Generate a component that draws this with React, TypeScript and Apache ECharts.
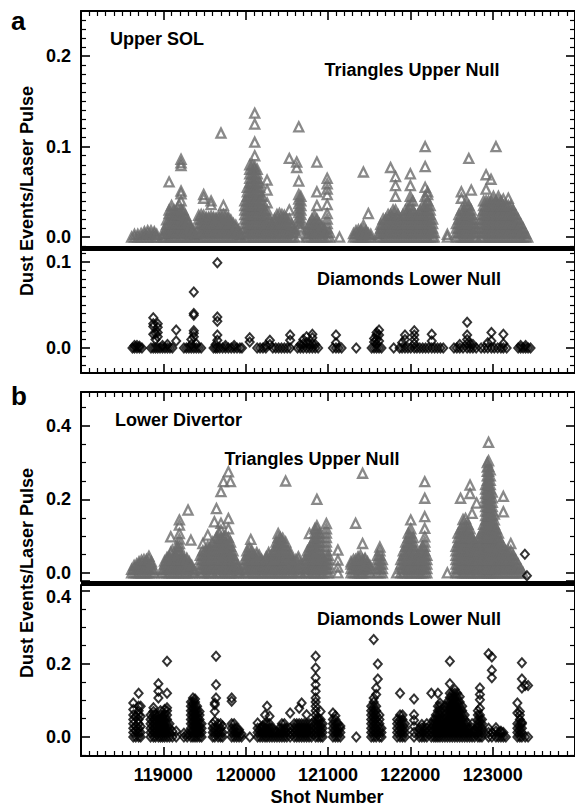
import React, { useEffect, useRef } from "react";
import * as echarts from "echarts";

type Col = [number, number[]];

// x axis (shot number)
const shotMin = 118000;
const shotMax = 124000;
const shotTickLabels = ["119000", "120000", "121000", "122000", "123000"];

// Panel a, top: Upper SOL, triangles = upper null  [shot, values at that shot]
const upperSolTriangles: Col[] = [
  [118615, [0]], [118650, [0, 0.003]], [118690, [0, 0.003]], [118730, [0, 0.004]],
  [118770, [0, 0.003, 0.006]], [118810, [0, 0.004, 0.007]], [118850, [0, 0.003, 0.007]],
  [118890, [0, 0.004, 0.006]], [118920, [0, 0.003]],
  [118985, [0]], [119010, [0, 0.004, 0.008]], [119040, [0, 0.004, 0.009, 0.014, 0.019]],
  [119070, [0, 0.005, 0.01, 0.015, 0.02, 0.026, 0.03, 0.061]],
  [119100, [0, 0.005, 0.01, 0.015, 0.02, 0.025, 0.03, 0.035]],
  [119130, [0, 0.005, 0.01, 0.015, 0.02, 0.025, 0.03]],
  [119160, [0, 0.005, 0.01, 0.015, 0.02, 0.025, 0.028]],
  [119190, [0, 0.005, 0.01, 0.015, 0.02, 0.025, 0.03, 0.036]],
  [119215, [0, 0.005, 0.01, 0.015, 0.02, 0.025, 0.03, 0.04, 0.048, 0.051, 0.079, 0.082, 0.086]],
  [119240, [0, 0.005, 0.01, 0.015, 0.02, 0.025, 0.03]],
  [119270, [0, 0.005, 0.01, 0.015, 0.02, 0.024]],
  [119300, [0, 0.005, 0.01, 0.015, 0.018]], [119330, [0, 0.004, 0.009, 0.012]],
  [119360, [0, 0.004, 0.007]], [119390, [0, 0.003]],
  [119430, [0, 0.005, 0.01, 0.015, 0.02, 0.024]],
  [119460, [0, 0.005, 0.01, 0.015, 0.02, 0.025]],
  [119490, [0, 0.005, 0.01, 0.015, 0.02, 0.024, 0.043, 0.047]],
  [119520, [0, 0.005, 0.01, 0.015, 0.02, 0.022]],
  [119550, [0, 0.005, 0.01, 0.015, 0.02, 0.022]],
  [119580, [0, 0.005, 0.01, 0.015, 0.02, 0.023, 0.036, 0.04]],
  [119610, [0, 0.005, 0.01, 0.015, 0.02, 0.022]],
  [119640, [0, 0.005, 0.01, 0.015, 0.02, 0.021]],
  [119670, [0, 0.005, 0.01, 0.015, 0.02, 0.023]],
  [119700, [0, 0.005, 0.01, 0.015, 0.02, 0.024, 0.115]],
  [119730, [0, 0.005, 0.01, 0.015, 0.02, 0.025, 0.035]],
  [119760, [0, 0.005, 0.01, 0.015, 0.02, 0.024]],
  [119790, [0, 0.005, 0.01, 0.015, 0.02, 0.022]],
  [119820, [0, 0.005, 0.01, 0.015, 0.019]], [119850, [0, 0.005, 0.01, 0.015]],
  [119880, [0, 0.005, 0.01, 0.013]], [119910, [0, 0.004, 0.008]], [119940, [0, 0.003]],
  [119990, [0, 0.005, 0.01, 0.015, 0.02, 0.025, 0.03, 0.035, 0.04]],
  [120020, [0, 0.005, 0.01, 0.015, 0.02, 0.025, 0.03, 0.035, 0.04, 0.045, 0.05, 0.055]],
  [120050, [0, 0.005, 0.01, 0.015, 0.02, 0.025, 0.03, 0.035, 0.04, 0.045, 0.05, 0.055, 0.06, 0.065, 0.07, 0.075, 0.08]],
  [120080, [0, 0.005, 0.01, 0.015, 0.02, 0.025, 0.03, 0.035, 0.04, 0.045, 0.05, 0.055, 0.06, 0.065, 0.07, 0.075, 0.08]],
  [120110, [0, 0.005, 0.01, 0.015, 0.02, 0.025, 0.03, 0.035, 0.04, 0.045, 0.05, 0.055, 0.06, 0.065, 0.07, 0.075, 0.078, 0.09, 0.105, 0.125, 0.137]],
  [120140, [0, 0.005, 0.01, 0.015, 0.02, 0.025, 0.03, 0.035, 0.04, 0.045, 0.05, 0.055, 0.06, 0.065, 0.07, 0.075]],
  [120170, [0, 0.005, 0.01, 0.015, 0.02, 0.025, 0.03, 0.035, 0.04, 0.045, 0.05, 0.055, 0.06]],
  [120200, [0, 0.005, 0.01, 0.015, 0.02, 0.025, 0.03, 0.035, 0.04, 0.045]],
  [120230, [0, 0.005, 0.01, 0.015, 0.02, 0.025, 0.03]],
  [120260, [0, 0.005, 0.01, 0.015, 0.02, 0.025, 0.03, 0.038, 0.052, 0.063]],
  [120290, [0, 0.005, 0.01, 0.015, 0.02]], [120320, [0, 0.005, 0.01, 0.015]],
  [120350, [0, 0.005, 0.01, 0.015, 0.02]], [120380, [0, 0.005, 0.01, 0.015, 0.02, 0.025]],
  [120410, [0, 0.005, 0.01, 0.015, 0.02, 0.026]], [120440, [0, 0.005, 0.01, 0.015, 0.02, 0.025]],
  [120470, [0, 0.005, 0.01, 0.015, 0.02, 0.024]], [120500, [0, 0.005, 0.01, 0.015, 0.02]],
  [120530, [0, 0.005, 0.01, 0.015, 0.02, 0.03, 0.087]], [120560, [0, 0.005, 0.01, 0.014]],
  [120590, [0, 0.005, 0.008]], [120620, [0.077, 0.083]],
  [120645, [0, 0.012, 0.017, 0.022, 0.027, 0.032, 0.037, 0.042, 0.047, 0.062, 0.122]],
  [120670, [0.01, 0.015, 0.02, 0.025, 0.03, 0.035, 0.04, 0.045]],
  [120745, [0, 0.004, 0.008]], [120775, [0, 0.005, 0.01, 0.015]],
  [120805, [0, 0.005, 0.01, 0.015, 0.02]], [120835, [0, 0.005, 0.01, 0.015, 0.019, 0.024]],
  [120865, [0, 0.005, 0.01, 0.015, 0.02, 0.035, 0.05, 0.083]],
  [120895, [0, 0.005, 0.01, 0.015]], [120925, [0, 0.005, 0.01, 0.013]], [120955, [0, 0.005, 0.009]],
  [120990, [0, 0.005, 0.01, 0.015, 0.02, 0.026, 0.036, 0.047, 0.053, 0.059, 0.065]],
  [121020, [0, 0.005]], [121140, [0]],
  [121310, [0, 0.004]], [121340, [0, 0.004, 0.007]], [121370, [0, 0.004, 0.008]],
  [121400, [0, 0.004, 0.008]], [121430, [0, 0.004, 0.008, 0.013, 0.072]],
  [121460, [0, 0.004, 0.007]], [121490, [0, 0.004, 0.026]], [121520, [0, 0.003]],
  [121610, [0, 0.004]], [121640, [0, 0.005, 0.01, 0.014]], [121670, [0, 0.005, 0.01, 0.015, 0.02]],
  [121700, [0, 0.005, 0.01, 0.015, 0.02]], [121730, [0, 0.005, 0.01, 0.015, 0.02, 0.025]],
  [121760, [0, 0.005, 0.01, 0.015, 0.02, 0.025, 0.077]],
  [121790, [0, 0.005, 0.01, 0.015, 0.02, 0.025, 0.03]],
  [121820, [0, 0.005, 0.01, 0.015, 0.02, 0.025, 0.03, 0.045, 0.057, 0.067]],
  [121850, [0, 0.005, 0.01, 0.015, 0.02, 0.025]], [121880, [0, 0.005, 0.01, 0.015, 0.02]],
  [121910, [0, 0.005, 0.01, 0.015, 0.02, 0.025]], [121940, [0, 0.005, 0.01, 0.015, 0.02, 0.025, 0.03]],
  [121970, [0, 0.005, 0.01, 0.015, 0.02, 0.025, 0.03]],
  [122000, [0, 0.005, 0.01, 0.015, 0.02, 0.025, 0.03, 0.035, 0.04, 0.045, 0.057, 0.07]],
  [122030, [0, 0.005, 0.01, 0.015, 0.02, 0.025, 0.03, 0.04]],
  [122060, [0, 0.005, 0.01, 0.015, 0.02, 0.025]], [122090, [0, 0.005, 0.01, 0.015, 0.02, 0.025]],
  [122120, [0, 0.005, 0.01, 0.015, 0.02, 0.025, 0.03]],
  [122150, [0, 0.005, 0.01, 0.015, 0.02, 0.025, 0.03, 0.035]],
  [122180, [0, 0.005, 0.01, 0.015, 0.02, 0.025, 0.03, 0.035, 0.045, 0.055, 0.078, 0.1]],
  [122210, [0, 0.005, 0.01, 0.015, 0.02, 0.025, 0.03, 0.035, 0.04, 0.047, 0.05]],
  [122240, [0, 0.005, 0.01, 0.015, 0.02, 0.025, 0.03, 0.035]],
  [122270, [0, 0.005, 0.01, 0.015, 0.02]], [122290, [0, 0.005]],
  [122450, [0, 0.003]],
  [122560, [0, 0.005, 0.01, 0.015]], [122590, [0, 0.005, 0.01, 0.015, 0.02, 0.025]],
  [122620, [0, 0.005, 0.01, 0.015, 0.02, 0.025, 0.03, 0.043, 0.05]],
  [122650, [0, 0.005, 0.01, 0.015, 0.02, 0.025, 0.03]],
  [122680, [0, 0.005, 0.01, 0.015, 0.02, 0.025, 0.03, 0.035, 0.04]],
  [122710, [0, 0.005, 0.01, 0.015, 0.02, 0.025, 0.03, 0.035, 0.087]],
  [122740, [0, 0.005, 0.01, 0.015, 0.02, 0.025, 0.03, 0.052]],
  [122770, [0, 0.005, 0.01, 0.015, 0.02]], [122800, [0, 0.005, 0.01]],
  [122860, [0, 0.005, 0.01, 0.015, 0.02, 0.025]],
  [122890, [0, 0.005, 0.01, 0.015, 0.02, 0.025, 0.03, 0.035, 0.04]],
  [122920, [0, 0.005, 0.01, 0.015, 0.02, 0.025, 0.03, 0.035, 0.04, 0.053, 0.069]],
  [122950, [0, 0.005, 0.01, 0.015, 0.02, 0.025, 0.03, 0.035, 0.04]],
  [122980, [0, 0.005, 0.01, 0.015, 0.02, 0.025, 0.03, 0.035, 0.04, 0.064]],
  [123010, [0, 0.005, 0.01, 0.015, 0.02, 0.025, 0.03, 0.035, 0.04, 0.045]],
  [123040, [0, 0.005, 0.01, 0.015, 0.02, 0.025, 0.03, 0.035, 0.04, 0.1]],
  [123070, [0, 0.005, 0.01, 0.015, 0.02, 0.025, 0.03, 0.035, 0.04, 0.045]],
  [123100, [0, 0.005, 0.01, 0.015, 0.02, 0.025, 0.03, 0.035, 0.04]],
  [123130, [0, 0.005, 0.01, 0.015, 0.02, 0.025, 0.03, 0.035, 0.042]],
  [123160, [0, 0.005, 0.01, 0.015, 0.02, 0.025, 0.03, 0.035]],
  [123190, [0, 0.005, 0.01, 0.015, 0.02, 0.025, 0.03, 0.035, 0.043]],
  [123220, [0, 0.005, 0.01, 0.015, 0.02, 0.025, 0.03, 0.035]],
  [123250, [0, 0.005, 0.01, 0.015, 0.02, 0.025, 0.03]],
  [123280, [0, 0.005, 0.01, 0.015, 0.02, 0.025]], [123310, [0, 0.005, 0.01, 0.015, 0.02]],
  [123340, [0, 0.005, 0.01, 0.015]], [123370, [0, 0.005, 0.01]], [123400, [0, 0.004]], [123425, [0]],
];

// Panel a, bottom: Upper SOL, diamonds = lower null
const upperSolDiamonds: Col[] = [
  [118625, [0]], [118650, [0, 0.003]], [118680, [0, 0.003]], [118710, [0, 0.002]], [118740, [0]],
  [118850, [0]], [118878, [0, 0.016, 0.025, 0.028, 0.035]], [118905, [0, 0.01, 0.017]],
  [118932, [0, 0.013, 0.018, 0.024, 0.028]], [118960, [0]], [118990, [0, 0.003]], [119020, [0]],
  [119050, [0, 0.004]], [119080, [0]], [119110, [0]], [119156, [0.008, 0.021]],
  [119250, [0]], [119280, [0]], [119310, [0]], [119340, [0, 0.004, 0.01]],
  [119370, [0, 0.013, 0.017, 0.02, 0.038, 0.04, 0.065]], [119400, [0, 0.005]], [119430, [0]], [119460, [0]],
  [119610, [0]], [119635, [0, 0.004]], [119656, [0, 0.009, 0.015, 0.031, 0.036, 0.099]], [119685, [0]],
  [119720, [0]], [119755, [0, 0.003]], [119790, [0]], [119825, [0]], [119860, [0, 0.003]],
  [119895, [0]], [119930, [0]], [119955, [0]], [120049, [0.007, 0.012]],
  [120140, [0]], [120175, [0]], [120210, [0]], [120245, [0, 0.003]], [120294, [0.004, 0.009]],
  [120330, [0]], [120365, [0]], [120400, [0]], [120435, [0]], [120470, [0]], [120505, [0]],
  [120540, [0, 0.009, 0.015]],
  [120630, [0]], [120665, [0, 0.004]], [120700, [0, 0.005, 0.01]], [120740, [0, 0.006, 0.013]],
  [120775, [0, 0.004]], [120810, [0, 0.005, 0.012, 0.016]], [120845, [0, 0.004]], [120880, [0]],
  [121060, [0]], [121097, [0, 0.006, 0.015]], [121130, [0]], [121165, [0]], [121343, [0]],
  [121530, [0]], [121560, [0, 0.007, 0.011]], [121590, [0, 0.005, 0.01, 0.015, 0.018]],
  [121620, [0, 0.008, 0.015, 0.021]], [121650, [0]], [121798, [0]],
  [121870, [0]], [121900, [0, 0.006]], [121935, [0, 0.01, 0.015]], [121970, [0]], [122005, [0]],
  [122048, [0, 0.005, 0.01, 0.015, 0.02]], [122080, [0]], [122115, [0]], [122150, [0]],
  [122185, [0]], [122220, [0]], [122260, [0, 0.008, 0.016]], [122295, [0]], [122330, [0]],
  [122365, [0]], [122400, [0]],
  [122530, [0]], [122565, [0]], [122600, [0, 0.004]], [122640, [0]],
  [122690, [0, 0.005, 0.01, 0.015, 0.03]], [122725, [0, 0.005]], [122760, [0, 0.004]], [122800, [0]],
  [122860, [0]], [122900, [0]], [122940, [0, 0.006]], [122985, [0, 0.008, 0.018]], [123020, [0]],
  [123060, [0]], [123100, [0]], [123130, [0, 0.005, 0.016]], [123170, [0]],
  [123310, [0]], [123340, [0, 0.003]], [123370, [0]], [123400, [0, 0.003]], [123430, [0]], [123460, [0]],
];

// Panel b, top: Lower Divertor, triangles = upper null
const lowerDivTriangles: Col[] = [
  [118615, [0, 0.01]], [118645, [0, 0.012, 0.02]], [118675, [0, 0.012, 0.024]],
  [118705, [0, 0.012, 0.024, 0.03]], [118735, [0, 0.012, 0.024, 0.034]],
  [118765, [0, 0.012, 0.024, 0.036]], [118795, [0, 0.012, 0.024, 0.036]],
  [118825, [0, 0.012, 0.024, 0.036, 0.045]], [118855, [0, 0.012, 0.024, 0.03]], [118885, [0, 0.01]],
  [118985, [0, 0.01]], [119015, [0, 0.012, 0.024, 0.032]], [119045, [0, 0.012, 0.024, 0.036, 0.042]],
  [119075, [0, 0.012, 0.024, 0.036, 0.044]], [119090, [0.056, 0.098]],
  [119110, [0, 0.012, 0.024, 0.036, 0.048, 0.062]], [119140, [0, 0.012, 0.024, 0.036, 0.048]],
  [119170, [0, 0.012, 0.024, 0.036, 0.048, 0.06, 0.072]],
  [119195, [0, 0.012, 0.024, 0.036, 0.048, 0.06, 0.07, 0.08, 0.092, 0.107, 0.13, 0.144]],
  [119225, [0, 0.012, 0.024, 0.036, 0.044]], [119255, [0, 0.012, 0.024, 0.036, 0.04]],
  [119285, [0, 0.012, 0.024, 0.036, 0.04]], [119300, [0.171]], [119315, [0, 0.012, 0.024, 0.03]],
  [119335, [0.089]], [119345, [0, 0.012, 0.02]], [119375, [0, 0.008]],
  [119450, [0, 0.012, 0.024, 0.036, 0.048]], [119480, [0, 0.012, 0.024, 0.036, 0.048, 0.06, 0.08]],
  [119510, [0, 0.012, 0.024, 0.036, 0.048, 0.06]],
  [119540, [0, 0.012, 0.024, 0.036, 0.048, 0.06, 0.072, 0.103]],
  [119570, [0, 0.012, 0.024, 0.036, 0.048, 0.06, 0.07]],
  [119600, [0, 0.012, 0.024, 0.036, 0.048, 0.06, 0.072, 0.084]], [119620, [0.139]],
  [119645, [0, 0.012, 0.024, 0.036, 0.048, 0.06, 0.072, 0.084, 0.096, 0.175]],
  [119675, [0, 0.012, 0.024, 0.036, 0.048, 0.06, 0.072, 0.084, 0.096, 0.11]],
  [119700, [0, 0.012, 0.024, 0.036, 0.048, 0.06, 0.072, 0.084, 0.096, 0.116, 0.135, 0.221]],
  [119730, [0, 0.012, 0.024, 0.036, 0.048, 0.06, 0.072, 0.084, 0.096, 0.248]],
  [119760, [0, 0.012, 0.024, 0.036, 0.048, 0.06, 0.072, 0.084, 0.1]],
  [119790, [0, 0.012, 0.024, 0.036, 0.048, 0.06, 0.072, 0.084, 0.096, 0.12, 0.148, 0.275]],
  [119815, [0, 0.012, 0.024, 0.036, 0.048, 0.06, 0.072, 0.084, 0.248]],
  [119845, [0, 0.012, 0.024, 0.036, 0.048, 0.06]], [119875, [0, 0.012, 0.024, 0.036]],
  [119905, [0, 0.012, 0.02]], [119930, [0, 0.008]],
  [119985, [0, 0.012, 0.024, 0.036]], [120015, [0, 0.012, 0.024, 0.036, 0.048, 0.06]],
  [120045, [0, 0.012, 0.024, 0.036, 0.048, 0.06, 0.07]], [120062, [0.091]],
  [120075, [0, 0.012, 0.024, 0.036, 0.048, 0.06]], [120105, [0, 0.012, 0.024, 0.036, 0.048]],
  [120135, [0, 0.012, 0.024, 0.036, 0.048, 0.055]], [120165, [0, 0.012, 0.024, 0.036, 0.048]],
  [120195, [0, 0.012, 0.024, 0.036]], [120220, [0, 0.012, 0.02]],
  [120250, [0, 0.012, 0.024, 0.036, 0.044]], [120280, [0, 0.012, 0.024, 0.036, 0.048, 0.055]],
  [120310, [0, 0.012, 0.024, 0.036, 0.048]], [120340, [0, 0.012, 0.024, 0.036, 0.048, 0.06]],
  [120370, [0, 0.012, 0.024, 0.036, 0.048, 0.06, 0.072, 0.084]],
  [120395, [0, 0.012, 0.024, 0.036, 0.048, 0.06, 0.072, 0.084, 0.096, 0.107]],
  [120420, [0, 0.012, 0.024, 0.036, 0.048, 0.06, 0.072, 0.084, 0.096]],
  [120450, [0, 0.012, 0.024, 0.036, 0.048, 0.06, 0.072, 0.084, 0.094]],
  [120485, [0, 0.012, 0.024, 0.036, 0.048, 0.06, 0.072, 0.084, 0.25]],
  [120515, [0, 0.012, 0.024, 0.036, 0.048, 0.06]], [120545, [0, 0.012, 0.024, 0.036, 0.048, 0.055]],
  [120575, [0, 0.012, 0.024, 0.03]],
  [120610, [0, 0.012, 0.024, 0.036]], [120640, [0, 0.012, 0.024, 0.036, 0.044]], [120670, [0, 0.012, 0.024]],
  [120720, [0, 0.012, 0.024, 0.036]], [120750, [0, 0.012, 0.024, 0.036, 0.048, 0.06]], [120775, [0.107]],
  [120780, [0, 0.012, 0.024, 0.036, 0.048, 0.06, 0.07]],
  [120810, [0, 0.012, 0.024, 0.036, 0.048, 0.06, 0.072, 0.084]],
  [120840, [0, 0.012, 0.024, 0.036, 0.048, 0.06, 0.072, 0.084, 0.096, 0.108, 0.12]],
  [120865, [0, 0.012, 0.024, 0.036, 0.048, 0.06, 0.072, 0.084, 0.096, 0.108, 0.12, 0.128, 0.2]],
  [120895, [0, 0.012, 0.024, 0.036, 0.048, 0.06, 0.072, 0.084, 0.096, 0.108]],
  [120925, [0, 0.012, 0.024, 0.036, 0.048]], [120950, [0, 0.012, 0.024, 0.036]],
  [120980, [0, 0.012, 0.024, 0.036, 0.048, 0.06, 0.072, 0.084, 0.096, 0.108, 0.12, 0.134]],
  [121005, [0, 0.012, 0.024, 0.036, 0.048]],
  [121120, [0, 0.016, 0.035, 0.062]],
  [121280, [0, 0.012, 0.024, 0.03]], [121310, [0, 0.012, 0.024, 0.036]],
  [121335, [0, 0.012, 0.024, 0.036, 0.135]], [121365, [0, 0.012, 0.024, 0.036, 0.044]],
  [121395, [0, 0.012, 0.024, 0.036, 0.048]], [121420, [0, 0.012, 0.024, 0.036, 0.08, 0.271]],
  [121450, [0, 0.012, 0.024, 0.036, 0.04]], [121480, [0, 0.012, 0.024, 0.03]], [121510, [0, 0.012, 0.02]],
  [121600, [0, 0.012, 0.024, 0.036, 0.048]], [121630, [0, 0.012, 0.024, 0.036, 0.048, 0.06, 0.07]],
  [121660, [0, 0.012, 0.024, 0.036]], [121834, [0]],
  [121885, [0, 0.012, 0.024, 0.036]], [121915, [0, 0.012, 0.024, 0.036, 0.048, 0.06]],
  [121945, [0, 0.012, 0.024, 0.036, 0.048, 0.06, 0.072, 0.084]],
  [121975, [0, 0.012, 0.024, 0.036, 0.048, 0.06, 0.072, 0.084, 0.096, 0.108]],
  [122005, [0, 0.012, 0.024, 0.036, 0.048, 0.06, 0.072, 0.084, 0.096, 0.108, 0.12, 0.144]],
  [122035, [0, 0.012, 0.024, 0.036, 0.048, 0.06, 0.072, 0.084, 0.096]],
  [122065, [0, 0.012, 0.024, 0.036, 0.048, 0.06]], [122095, [0, 0.012, 0.024, 0.036, 0.048]],
  [122125, [0, 0.012, 0.024, 0.036, 0.048, 0.06]], [122150, [0, 0.012, 0.024, 0.036, 0.048, 0.06, 0.072]],
  [122175, [0, 0.012, 0.024, 0.036, 0.048, 0.06, 0.072, 0.084, 0.098, 0.121, 0.153, 0.203, 0.248]],
  [122200, [0, 0.012, 0.024, 0.036, 0.048]], [122450, [0]],
  [122555, [0, 0.012, 0.024, 0.036, 0.048, 0.06, 0.072]],
  [122580, [0, 0.012, 0.024, 0.036, 0.048, 0.06, 0.072, 0.084, 0.096, 0.108]],
  [122610, [0, 0.012, 0.024, 0.036, 0.048, 0.06, 0.072, 0.084, 0.096, 0.108, 0.12, 0.203]],
  [122640, [0, 0.012, 0.024, 0.036, 0.048, 0.06, 0.072, 0.084, 0.096, 0.108, 0.12, 0.132, 0.145]],
  [122670, [0, 0.012, 0.024, 0.036, 0.048, 0.06, 0.072, 0.084, 0.096, 0.108, 0.12, 0.132, 0.148]],
  [122700, [0, 0.012, 0.024, 0.036, 0.048, 0.06, 0.072, 0.084, 0.096, 0.108, 0.12, 0.132]],
  [122725, [0, 0.012, 0.024, 0.036, 0.048, 0.06, 0.072, 0.084, 0.096, 0.108, 0.12, 0.216, 0.239]],
  [122750, [0, 0.012, 0.024, 0.036, 0.048, 0.06, 0.072, 0.084, 0.096, 0.162]],
  [122780, [0, 0.012, 0.024, 0.036, 0.048, 0.06, 0.072, 0.084]],
  [122805, [0, 0.012, 0.024, 0.036, 0.048, 0.06, 0.072, 0.19]],
  [122830, [0, 0.012, 0.024, 0.036, 0.048, 0.06, 0.072, 0.084, 0.096]],
  [122860, [0, 0.012, 0.024, 0.036, 0.048, 0.06, 0.072, 0.084, 0.096, 0.108]],
  [122890, [0, 0.012, 0.024, 0.036, 0.048, 0.06, 0.072, 0.084, 0.096, 0.108, 0.12, 0.132]],
  [122915, [0, 0.012, 0.024, 0.036, 0.048, 0.06, 0.072, 0.084, 0.096, 0.108, 0.12, 0.132, 0.144, 0.156, 0.168, 0.18, 0.192, 0.204, 0.216, 0.228, 0.24]],
  [122935, [0, 0.012, 0.024, 0.036, 0.048, 0.06, 0.072, 0.084, 0.096, 0.108, 0.12, 0.132, 0.144, 0.156, 0.168, 0.18, 0.192, 0.204, 0.216, 0.228, 0.24, 0.252, 0.264, 0.276, 0.288, 0.3]],
  [122950, [0, 0.012, 0.024, 0.036, 0.048, 0.06, 0.072, 0.084, 0.096, 0.108, 0.12, 0.132, 0.144, 0.156, 0.168, 0.18, 0.192, 0.204, 0.216, 0.228, 0.24, 0.252, 0.264, 0.276, 0.29, 0.305, 0.355]],
  [122970, [0, 0.012, 0.024, 0.036, 0.048, 0.06, 0.072, 0.084, 0.096, 0.108, 0.12, 0.132, 0.144, 0.156, 0.168, 0.18, 0.192, 0.204, 0.216, 0.228, 0.24, 0.252, 0.264, 0.28]],
  [122995, [0, 0.012, 0.024, 0.036, 0.048, 0.06, 0.072, 0.084, 0.096, 0.108, 0.12, 0.132, 0.144, 0.156, 0.168, 0.18, 0.192, 0.204, 0.22]],
  [123020, [0, 0.012, 0.024, 0.036, 0.048, 0.06, 0.072, 0.084, 0.096, 0.108, 0.12, 0.132, 0.144, 0.16]],
  [123045, [0, 0.012, 0.024, 0.036, 0.048, 0.06, 0.072, 0.084, 0.096, 0.108, 0.12]],
  [123070, [0, 0.012, 0.024, 0.036, 0.048, 0.06, 0.072, 0.084, 0.096, 0.108]],
  [123100, [0, 0.012, 0.024, 0.036, 0.048, 0.06, 0.072, 0.084]],
  [123130, [0, 0.012, 0.024, 0.036, 0.048, 0.06, 0.072, 0.166, 0.208]],
  [123160, [0, 0.012, 0.024, 0.036, 0.048, 0.06]], [123190, [0, 0.012, 0.024, 0.036, 0.048, 0.06]],
  [123220, [0, 0.012, 0.024, 0.036, 0.048, 0.06, 0.08]], [123250, [0, 0.012, 0.024, 0.036, 0.048]],
  [123280, [0, 0.012, 0.024, 0.036]], [123310, [0, 0.012, 0.024]], [123340, [0, 0.012]], [123370, [0]],
];

// two stray lower-null diamonds drawn in panel b, top
const lowerDivStrayDiamonds: Col[] = [[123391, [0.051]], [123416, [-0.008]]];

// Panel b, bottom: Lower Divertor, diamonds = lower null
const lowerDivDiamonds: Col[] = [
  [118635, [0, 0.012, 0.024, 0.036, 0.048, 0.06, 0.075, 0.093]], [118665, [0, 0.016, 0.029, 0.057]],
  [118700, [0, 0.012, 0.024, 0.036, 0.048, 0.06, 0.072, 0.084, 0.12]], [118725, [0, 0.012, 0.029, 0.057, 0.084]],
  [118845, [0, 0.012, 0.024, 0.036, 0.048, 0.06]], [118880, [0, 0.012, 0.024, 0.036, 0.048, 0.06, 0.07, 0.08]],
  [118905, [0, 0.012, 0.024, 0.036, 0.048, 0.06]],
  [118940, [0, 0.012, 0.024, 0.036, 0.048, 0.06, 0.107, 0.125, 0.146]],
  [118965, [0, 0.012, 0.024, 0.036, 0.048, 0.06, 0.072]], [118990, [0, 0.012, 0.024, 0.036, 0.048, 0.057]],
  [119015, [0, 0.012, 0.024, 0.036, 0.048, 0.06, 0.075]],
  [119045, [0, 0.012, 0.024, 0.036, 0.048, 0.06, 0.072, 0.08, 0.12, 0.207]],
  [119075, [0, 0.012, 0.024, 0.036]], [119110, [0, 0.016]], [119156, [0, 0.016]],
  [119250, [0, 0.01]], [119290, [0, 0.008]],
  [119335, [0, 0.012, 0.024, 0.036, 0.048, 0.06, 0.072, 0.084, 0.096]],
  [119360, [0, 0.012, 0.024, 0.036, 0.048, 0.06, 0.072, 0.084, 0.096, 0.107]],
  [119385, [0, 0.012, 0.024, 0.036, 0.048, 0.06, 0.072, 0.084, 0.096, 0.104]],
  [119410, [0, 0.012, 0.024, 0.036, 0.048, 0.06, 0.072, 0.084]],
  [119440, [0, 0.012, 0.024, 0.036, 0.048, 0.06, 0.07]], [119465, [0, 0.012, 0.024, 0.036]],
  [119600, [0, 0.012, 0.024, 0.036]], [119625, [0, 0.012, 0.024, 0.043, 0.07, 0.088, 0.093]],
  [119640, [0.107, 0.143, 0.221]], [119665, [0, 0.012, 0.024, 0.036]], [119695, [0, 0.012, 0.024, 0.036]],
  [119720, [0, 0.012, 0.03]],
  [119830, [0, 0.012, 0.024, 0.036, 0.098, 0.107]], [119860, [0, 0.012, 0.024, 0.036]],
  [119890, [0, 0.012, 0.024]], [119920, [0, 0.012, 0.02]], [119950, [0, 0.008]], [120050, [0]],
  [120145, [0, 0.012, 0.024, 0.038]], [120175, [0, 0.012, 0.024]], [120205, [0, 0.012, 0.024, 0.03]],
  [120235, [0, 0.012, 0.024, 0.036, 0.06]], [120260, [0, 0.012, 0.024, 0.036, 0.084]],
  [120290, [0, 0.012, 0.024, 0.036, 0.057]], [120320, [0, 0.012, 0.024]], [120350, [0, 0.012, 0.02]],
  [120380, [0, 0.012]], [120410, [0, 0.012, 0.024]], [120440, [0, 0.012, 0.024, 0.036]],
  [120470, [0, 0.012, 0.024, 0.036]], [120500, [0, 0.012, 0.024]], [120540, [0, 0.012, 0.024, 0.066]],
  [120590, [0, 0.012, 0.024, 0.036]], [120620, [0, 0.012, 0.024, 0.036]],
  [120650, [0, 0.012, 0.024, 0.036, 0.079]], [120680, [0, 0.012, 0.024, 0.036, 0.093]],
  [120710, [0, 0.012, 0.024, 0.036]], [120740, [0, 0.012, 0.024, 0.036, 0.061]],
  [120770, [0, 0.012, 0.024, 0.036]], [120800, [0, 0.012, 0.024, 0.036]],
  [120850, [0, 0.012, 0.024, 0.036, 0.048, 0.06, 0.072, 0.084, 0.096, 0.107, 0.125, 0.143, 0.162, 0.189, 0.221]],
  [120880, [0, 0.012, 0.024, 0.036, 0.048, 0.05]], [120910, [0, 0.012, 0.024, 0.036, 0.048, 0.07]],
  [120935, [0, 0.012, 0.024, 0.036]],
  [121060, [0, 0.012, 0.024, 0.036, 0.048, 0.066]], [121090, [0, 0.012, 0.024, 0.036, 0.048, 0.058]],
  [121120, [0, 0.012, 0.024, 0.036]], [121150, [0, 0.012, 0.024, 0.03]], [121343, [0]],
  [121525, [0, 0.012, 0.024, 0.036, 0.048, 0.06, 0.072, 0.084]],
  [121555, [0, 0.012, 0.024, 0.036, 0.048, 0.06, 0.072, 0.084, 0.096, 0.107, 0.267]],
  [121585, [0, 0.012, 0.024, 0.036, 0.048, 0.06, 0.072, 0.084, 0.116, 0.134]],
  [121605, [0.159, 0.2]], [121625, [0, 0.012, 0.024, 0.036, 0.048, 0.06]], [121650, [0, 0.012, 0.024]],
  [121840, [0, 0.012, 0.024, 0.036, 0.048]], [121875, [0, 0.012, 0.024, 0.036, 0.048, 0.06, 0.12]],
  [121905, [0, 0.012, 0.024, 0.036, 0.048, 0.06]], [121935, [0, 0.012, 0.024, 0.036]],
  [122045, [0, 0.012, 0.029, 0.046, 0.061, 0.104]],
  [122110, [0, 0.012, 0.024]], [122140, [0, 0.012, 0.024, 0.034]], [122170, [0, 0.012, 0.024]],
  [122200, [0, 0.012, 0.024, 0.036]], [122255, [0, 0.012, 0.024, 0.036, 0.12]],
  [122285, [0, 0.012, 0.024, 0.036, 0.048]], [122310, [0, 0.012, 0.024, 0.036, 0.048, 0.06]],
  [122335, [0, 0.012, 0.024, 0.036, 0.048, 0.06, 0.072, 0.084, 0.12]],
  [122360, [0, 0.012, 0.024, 0.036, 0.048, 0.06, 0.072, 0.084, 0.093]],
  [122390, [0, 0.012, 0.024, 0.036, 0.048]],
  [122420, [0, 0.012, 0.024, 0.036, 0.048, 0.06, 0.072, 0.084]],
  [122450, [0, 0.012, 0.024, 0.036, 0.048, 0.06, 0.072, 0.084, 0.096]],
  [122480, [0, 0.012, 0.024, 0.036, 0.048, 0.06, 0.072, 0.084, 0.096, 0.108, 0.12, 0.146, 0.207]],
  [122510, [0, 0.012, 0.024, 0.036, 0.048, 0.06, 0.072, 0.084, 0.096, 0.108, 0.12]],
  [122540, [0, 0.012, 0.024, 0.036, 0.048, 0.06, 0.072, 0.084, 0.096, 0.108, 0.12, 0.13]],
  [122570, [0, 0.012, 0.024, 0.036, 0.048, 0.06, 0.072, 0.084, 0.096, 0.108, 0.12]],
  [122600, [0, 0.012, 0.024, 0.036, 0.048, 0.06, 0.072, 0.084, 0.096, 0.11]],
  [122630, [0, 0.012, 0.024, 0.036, 0.048, 0.06, 0.072, 0.084]],
  [122660, [0, 0.012, 0.024, 0.036, 0.048, 0.06]],
  [122690, [0, 0.012, 0.024, 0.038]], [122720, [0, 0.012, 0.024]], [122750, [0, 0.012, 0.024, 0.036]],
  [122780, [0, 0.012, 0.02]], [122820, [0, 0.012, 0.024, 0.036, 0.048, 0.06, 0.072]],
  [122845, [0, 0.012, 0.024, 0.036, 0.048, 0.06, 0.079, 0.102, 0.116, 0.134]],
  [122870, [0, 0.012, 0.024, 0.036, 0.048]], [122950, [0, 0.012, 0.024, 0.228]],
  [122990, [0, 0.012, 0.162, 0.183, 0.219]],
  [123040, [0, 0.016, 0.025]], [123070, [0, 0.012]], [123100, [0, 0.012, 0.016]], [123130, [0, 0.012]],
  [123160, [0]],
  [123300, [0, 0.012, 0.024, 0.036, 0.066, 0.093]], [123330, [0, 0.012, 0.024, 0.036, 0.048, 0.06, 0.07]],
  [123355, [0, 0.012, 0.024, 0.036, 0.04, 0.134, 0.159, 0.203]], [123395, [0, 0.141]], [123430, [0, 0.141]],
];

const FONT = '"Liberation Sans", Arial, Helvetica, sans-serif';

function points(cols: Col[]): number[][] {
  const out: number[][] = [];
  cols.forEach(([x, vs]) => vs.forEach((v) => out.push([x, v])));
  return out;
}

const grids = [
  { left: 81, top: 11, width: 494, height: 237 },
  { left: 81, top: 248, width: 494, height: 125 },
  { left: 81, top: 392, width: 494, height: 189 },
  { left: 81, top: 585, width: 494, height: 171 },
];
const yRanges = [
  { min: -0.012, max: 0.25, split: 3, minor: 10 },
  { min: -0.029, max: 0.116, split: 2, minor: 10 },
  { min: -0.022, max: 0.492, split: 3, minor: 4 },
  { min: -0.052, max: 0.416, split: 3, minor: 4 },
];

const axisLine = { show: true, onZero: false, lineStyle: { color: "#000", width: 2 } };
const majorTick = (show: boolean) => ({ show, inside: true, length: 9, lineStyle: { color: "#000", width: 1.6 } });
const minorTick = (n: number) => ({ show: true, splitNumber: n, length: 5, lineStyle: { color: "#000", width: 1.2 } });

export default function App() {
  const ref = useRef<HTMLDivElement>(null);
  useEffect(() => {
    document.body.style.margin = "0";
    if (!ref.current) return;
    const chart = echarts.init(ref.current, undefined, { renderer: "svg" });

    const labelBase = { color: "#000", fontFamily: FONT, fontWeight: "bold", fontSize: 18 };
    const xAxis: any[] = [];
    const yAxis: any[] = [];
    grids.forEach((_, g) => {
      const showBottom = g === 1 || g === 3;
      const showTop = g === 0 || g === 2;
      xAxis.push({
        type: "value", gridIndex: g, position: "bottom", min: shotMin, max: shotMax, interval: 1000,
        axisLine: { ...axisLine, show: showBottom }, axisTick: majorTick(showBottom),
        minorTick: { ...minorTick(10), show: showBottom },
        splitLine: { show: false },
        axisLabel: {
          show: g === 3, margin: 10, ...labelBase,
          showMinLabel: false, showMaxLabel: false,
          formatter: (v: number) => (shotTickLabels.includes(String(v)) ? String(v) : ""),
        },
      });
      xAxis.push({
        type: "value", gridIndex: g, position: "top", min: shotMin, max: shotMax, interval: 1000,
        axisLine: { ...axisLine, show: showTop }, axisTick: majorTick(showTop),
        minorTick: { ...minorTick(10), show: showTop },
        splitLine: { show: false }, axisLabel: { show: false },
      });
      const r = yRanges[g];
      yAxis.push({
        type: "value", gridIndex: g, position: "left", min: r.min, max: r.max, splitNumber: r.split,
        axisLine, axisTick: majorTick(true), minorTick: minorTick(r.minor), splitLine: { show: false },
        axisLabel: {
          margin: 10, ...labelBase,
          showMinLabel: false, showMaxLabel: false,
          rich: { low: { ...labelBase, padding: [12, 0, 0, 0] } },
          formatter: (v: number) => {
            if (v < -1e-9) return "";
            const s = v.toFixed(1);
            // the top label of the bottom-b panel sits a little below its tick, as in the figure
            return g === 3 && v > 0.39 ? `{low|${s}}` : s;
          },
        },
      });
      yAxis.push({
        type: "value", gridIndex: g, position: "right", min: r.min, max: r.max, splitNumber: r.split,
        axisLine, axisTick: majorTick(true), minorTick: minorTick(r.minor), splitLine: { show: false },
        axisLabel: { show: false },
      });
    });

    const triStyle = { color: "rgba(0,0,0,0)", borderColor: "#6b6b6b", borderWidth: 2.3 };
    const diaStyle = { color: "rgba(0,0,0,0)", borderColor: "#000000", borderWidth: 2 };
    const mk = (name: string, cols: Col[], g: number, tri: boolean) => ({
      type: "scatter", name, xAxisIndex: g * 2, yAxisIndex: g * 2,
      symbol: tri ? "triangle" : "diamond", symbolSize: tri ? 9 : [8, 9],
      itemStyle: tri ? triStyle : diaStyle, data: points(cols), silent: true, clip: true,
    });

    const txt = (text: string, x: number, y: number, size: number, align = "left", rotation = 0) => ({
      type: "text", x, y, rotation, silent: true,
      style: { text, fill: "#000", font: `bold ${size}px ${FONT}`, textAlign: align, textVerticalAlign: "middle" },
    });

    chart.setOption({
      animation: false,
      grid: grids,
      xAxis,
      yAxis,
      series: [
        mk("Upper SOL – Triangles Upper Null", upperSolTriangles, 0, true),
        mk("Upper SOL – Diamonds Lower Null", upperSolDiamonds, 1, false),
        mk("Lower Divertor – Triangles Upper Null", lowerDivTriangles, 2, true),
        mk("Lower Divertor – stray diamonds", lowerDivStrayDiamonds, 2, false),
        mk("Lower Divertor – Diamonds Lower Null", lowerDivDiamonds, 3, false),
      ],
      graphic: [
        { type: "rect", shape: { x: 81, y: 246, width: 494, height: 5 }, style: { fill: "#000" }, silent: true },
        { type: "rect", shape: { x: 81, y: 581, width: 494, height: 5 }, style: { fill: "#000" }, silent: true },
        txt("a", 11, 21, 26),
        txt("b", 11, 396, 26),
        txt("Upper SOL", 110, 39, 18),
        txt("Triangles Upper Null", 412, 70, 18, "center"),
        txt("Diamonds Lower Null", 409, 279, 18, "center"),
        txt("Lower Divertor", 115, 420, 18),
        txt("Triangles Upper Null", 312, 459, 18, "center"),
        txt("Diamonds Lower Null", 409, 619, 18, "center"),
        txt("Dust Events/Laser Pulse", 27, 191, 18, "center", Math.PI / 2),
        txt("Dust Events/Laser Pulse", 27, 573, 18, "center", Math.PI / 2),
        txt("Shot Number", 327, 797, 18, "center"),
      ],
    });
    return () => chart.dispose();
  }, []);
  return <div ref={ref} style={{ width: 575, height: 811 }} />;
}
